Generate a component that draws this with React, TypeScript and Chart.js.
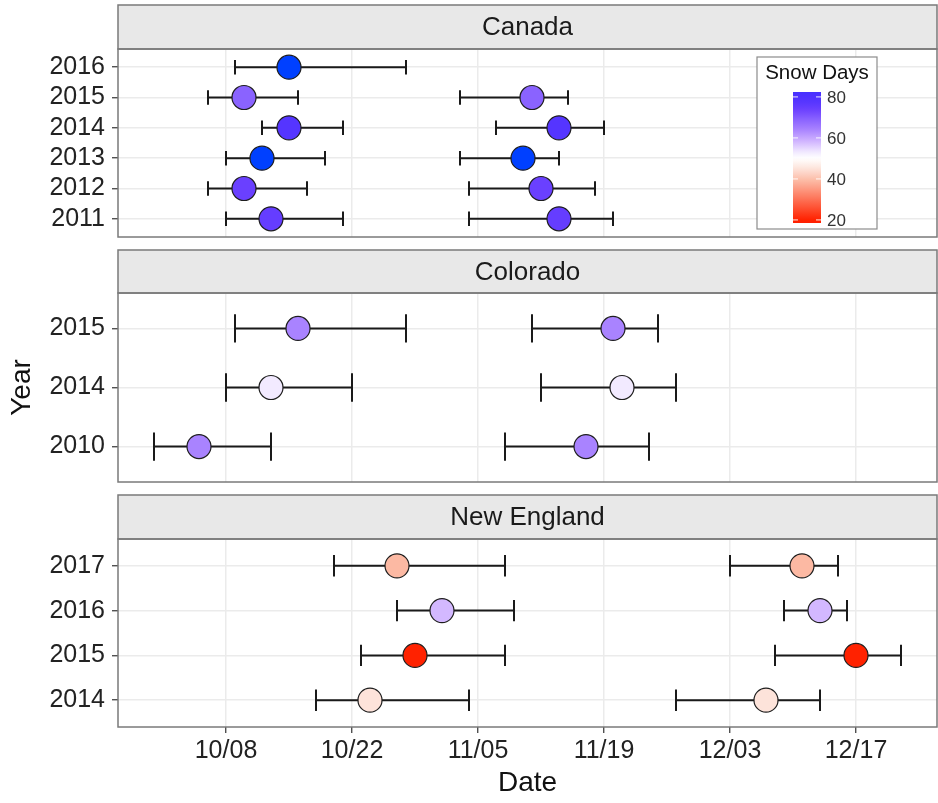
import React, { useEffect, useRef } from 'react';
import { Chart, registerables } from 'chart.js';

Chart.register(...registerables);

// ---------- data ----------
const xTickDates = ['10/08', '10/22', '11/05', '11/19', '12/03', '12/17'];
const xMinDate = '09/26';
const xMaxDate = '12/26';

const canadaYears = ['2011', '2012', '2013', '2014', '2015', '2016'];
const canadaSnowDays = [75, 74, 88, 78, 69, 88];
const canadaEarlyLow = ['10/08', '10/06', '10/08', '10/12', '10/06', '10/09'];
const canadaEarlyMid = ['10/13', '10/10', '10/12', '10/15', '10/10', '10/15'];
const canadaEarlyHigh = ['10/21', '10/17', '10/19', '10/21', '10/16', '10/28'];
const canadaLateLow = ['11/04', '11/04', '11/03', '11/07', '11/03', null];
const canadaLateMid = ['11/14', '11/12', '11/10', '11/14', '11/11', null];
const canadaLateHigh = ['11/20', '11/18', '11/14', '11/19', '11/15', null];

const coloradoYears = ['2010', '2014', '2015'];
const coloradoSnowDays = [64, 53, 64];
const coloradoEarlyLow = ['09/30', '10/08', '10/09'];
const coloradoEarlyMid = ['10/05', '10/13', '10/16'];
const coloradoEarlyHigh = ['10/13', '10/22', '10/28'];
const coloradoLateLow = ['11/08', '11/12', '11/11'];
const coloradoLateMid = ['11/17', '11/21', '11/20'];
const coloradoLateHigh = ['11/24', '11/27', '11/25'];

const neYears = ['2014', '2015', '2016', '2017'];
const neSnowDays = [45, 20, 58, 39];
const neEarlyLow = ['10/18', '10/23', '10/27', '10/20'];
const neEarlyMid = ['10/24', '10/29', '11/01', '10/27'];
const neEarlyHigh = ['11/04', '11/08', '11/09', '11/08'];
const neLateLow = ['11/27', '12/08', '12/09', '12/03'];
const neLateMid = ['12/07', '12/17', '12/13', '12/11'];
const neLateHigh = ['12/13', '12/22', '12/16', '12/15'];

const legendTicks = [20, 40, 60, 80];
const legendMin = 18.5;
const legendMax = 82.4;

// colour scale (snow days -> fill)
const colorStops: [number, string][] = [
  [18, '#ff1e00'], [20, '#ff2200'], [39, '#fcb9a3'], [45, '#fde3da'], [50, '#ffffff'],
  [53, '#f2eaff'], [58, '#d3b8ff'], [64, '#a983ff'], [69, '#8a63ff'], [74, '#6a40ff'],
  [78, '#5535ff'], [82, '#4a30ff'], [88, '#0040ff'],
];

// ---------- helpers ----------
const FONT = '"Liberation Sans", Arial, Helvetica, sans-serif';
Chart.defaults.font.family = FONT;

function dayOf(md: string | null): number {
  if (!md) return NaN;
  const [m, d] = md.split('/').map(Number);
  return Math.round((Date.UTC(2001, m - 1, d) - Date.UTC(2001, 8, 30)) / 86400000);
}

function hexToRgb(h: string) {
  const n = parseInt(h.slice(1), 16);
  return [(n >> 16) & 255, (n >> 8) & 255, n & 255];
}

function colorFor(v: number): string {
  if (v <= colorStops[0][0]) return colorStops[0][1];
  for (let i = 1; i < colorStops.length; i++) {
    const [v1, c1] = colorStops[i];
    if (v <= v1) {
      const [v0, c0] = colorStops[i - 1];
      const t = (v - v0) / (v1 - v0);
      const a = hexToRgb(c0), b = hexToRgb(c1);
      const r = a.map((x, k) => Math.round(x + (b[k] - x) * t));
      return `rgb(${r[0]},${r[1]},${r[2]})`;
    }
  }
  return colorStops[colorStops.length - 1][1];
}

const CAP = 0.24;

function buildDatasets(years: string[], snow: number[], eL: any[], eM: any[], eH: any[], lL: any[], lM: any[], lH: any[]) {
  const pts: any[] = [];
  const colors: string[] = [];
  const bars: any[] = [];
  years.forEach((_, i) => {
    const groups = [[eL[i], eM[i], eH[i]], [lL[i], lM[i], lH[i]]];
    groups.forEach(([lo, mid, hi]) => {
      if (!mid) return;
      const a = dayOf(lo), m = dayOf(mid), b = dayOf(hi);
      pts.push({ x: m, y: i });
      colors.push(colorFor(snow[i]));
      bars.push(
        { x: a, y: i - CAP }, { x: a, y: i + CAP }, { x: a, y: null },
        { x: a, y: i }, { x: b, y: i }, { x: b, y: null },
        { x: b, y: i - CAP }, { x: b, y: i + CAP }, { x: b, y: null },
      );
    });
  });
  return [
    {
      type: 'scatter', data: pts, backgroundColor: colors, borderColor: '#1e1e1e', borderWidth: 1.2,
      pointRadius: 12, pointHoverRadius: 12, order: 0,
    },
    {
      type: 'line', data: bars, borderColor: '#1a1a1a', borderWidth: 2, pointRadius: 0, fill: false,
      spanGaps: false, tension: 0, order: 1,
    },
  ];
}

const panelPlugin = {
  id: 'panelDecor',
  afterDatasetsDraw(chart: any, _args: any, opts: any) {
    const { ctx, chartArea: a } = chart;
    const sh = opts.stripHeight;
    const top = a.top - sh;
    ctx.save();
    ctx.fillStyle = '#e8e8e8';
    ctx.fillRect(a.left, top, a.right - a.left, sh);
    ctx.strokeStyle = '#7a7a7a';
    ctx.lineWidth = 1.5;
    ctx.strokeRect(a.left, top, a.right - a.left, sh);
    ctx.strokeRect(a.left, a.top, a.right - a.left, a.bottom - a.top);
    ctx.fillStyle = '#1a1a1a';
    ctx.font = `26px ${FONT}`;
    ctx.textAlign = 'center';
    ctx.textBaseline = 'middle';
    ctx.fillText(opts.label, (a.left + a.right) / 2, top + sh / 2 + 1);
    ctx.restore();
  },
};

const legendPlugin = {
  id: 'snowLegend',
  afterDraw(chart: any, _args: any, opts: any) {
    if (!opts || !opts.show) return;
    const { ctx, chartArea: a } = chart;
    const x0 = a.right - 180, y0 = a.top + 8, w = 120, h = 172;
    ctx.save();
    ctx.fillStyle = '#ffffff';
    ctx.fillRect(x0, y0, w, h);
    ctx.strokeStyle = '#8c8c8c';
    ctx.lineWidth = 1.2;
    ctx.strokeRect(x0, y0, w, h);
    ctx.fillStyle = '#111';
    ctx.font = `20.5px ${FONT}`;
    ctx.textAlign = 'center';
    ctx.textBaseline = 'middle';
    ctx.fillText('Snow Days', x0 + w / 2, y0 + 16);
    const bx = x0 + 36, bw = 28, by = y0 + 35, bh = 131;
    const g = ctx.createLinearGradient(0, by + bh, 0, by);
    for (let k = 0; k <= 40; k++) {
      const v = legendMin + (legendMax - legendMin) * (k / 40);
      g.addColorStop(k / 40, colorFor(v));
    }
    ctx.fillStyle = g;
    ctx.fillRect(bx, by, bw, bh);
    const yFor = (v: number) => by + bh - ((v - legendMin) / (legendMax - legendMin)) * bh;
    ctx.strokeStyle = 'rgba(255,255,255,0.9)';
    ctx.lineWidth = 1;
    ctx.font = `17px ${FONT}`;
    ctx.textAlign = 'left';
    ctx.fillStyle = '#333';
    legendTicks.forEach((v) => {
      const y = yFor(v);
      ctx.beginPath();
      ctx.moveTo(bx, y); ctx.lineTo(bx + 5, y);
      ctx.moveTo(bx + bw - 5, y); ctx.lineTo(bx + bw, y);
      ctx.stroke();
      ctx.fillText(String(v), bx + bw + 6, y + 1);
    });
    ctx.restore();
  },
};

function xLabel(v: number): string {
  const d = xTickDates.find((s) => dayOf(s) === v);
  return d ?? '';
}

function buildConfig(p: any): any {
  const years: string[] = p.years;
  return {
    type: 'scatter',
    data: { datasets: buildDatasets(p.years, p.snow, p.eL, p.eM, p.eH, p.lL, p.lM, p.lH) },
    plugins: [panelPlugin, legendPlugin],
    options: {
      responsive: false,
      animation: false,
      devicePixelRatio: 1,
      events: [],
      layout: { autoPadding: false, padding: { top: p.padTop, bottom: p.padBottom, left: 0, right: 1 } },
      plugins: {
        legend: { display: false },
        tooltip: { enabled: false },
        panelDecor: { label: p.label, stripHeight: p.stripHeight },
        snowLegend: { show: p.legend },
      },
      scales: {
        x: {
          type: 'linear',
          min: dayOf(xMinDate),
          max: dayOf(xMaxDate),
          afterBuildTicks: (s: any) => { s.ticks = xTickDates.map((d) => ({ value: dayOf(d) })); },
          ticks: {
            display: p.showX, callback: (v: number) => xLabel(v), autoSkip: false, maxRotation: 0,
            font: { size: 25 }, color: '#222', padding: 3,
          },
          grid: { color: '#ebebeb', lineWidth: 1.5, drawTicks: p.showX, tickLength: 6, tickColor: '#333', tickWidth: 1.2 },
          border: { display: false },
          title: { display: p.showX, text: 'Date', font: { size: 28 }, color: '#111', padding: { top: 0, bottom: 3 } },
          afterFit: (s: any) => { s.height = p.showX ? 76 : 0; s.paddingLeft = 0; s.paddingRight = 0; },
        },
        y: {
          type: 'linear',
          min: -0.6,
          max: years.length - 0.4,
          afterBuildTicks: (s: any) => { s.ticks = years.map((_, i) => ({ value: i })); },
          ticks: { callback: (v: number) => years[v] ?? '', font: { size: 25 }, color: '#222', padding: 7 },
          grid: { color: '#ebebeb', lineWidth: 1.5, drawTicks: true, tickLength: 6, tickColor: '#333', tickWidth: 1.2 },
          border: { display: false },
          title: { display: p.showYTitle, text: 'Year', font: { size: 28 }, color: '#111', padding: { top: 5, bottom: 0 } },
          afterFit: (s: any) => { s.width = 118; s.paddingTop = 0; s.paddingBottom = 0; },
        },
      },
    },
  };
}

const panels = [
  {
    label: 'Canada', years: canadaYears, snow: canadaSnowDays,
    eL: canadaEarlyLow, eM: canadaEarlyMid, eH: canadaEarlyHigh,
    lL: canadaLateLow, lM: canadaLateMid, lH: canadaLateHigh,
    top: 0, height: 245, padTop: 49, padBottom: 8, stripHeight: 44, showX: false, showYTitle: false, legend: true,
  },
  {
    label: 'Colorado', years: coloradoYears, snow: coloradoSnowDays,
    eL: coloradoEarlyLow, eM: coloradoEarlyMid, eH: coloradoEarlyHigh,
    lL: coloradoLateLow, lM: coloradoLateMid, lH: coloradoLateHigh,
    top: 245, height: 245, padTop: 48, padBottom: 8, stripHeight: 43, showX: false, showYTitle: true, legend: false,
  },
  {
    label: 'New England', years: neYears, snow: neSnowDays,
    eL: neEarlyLow, eM: neEarlyMid, eH: neEarlyHigh,
    lL: neLateLow, lM: neLateMid, lH: neLateHigh,
    top: 490, height: 313, padTop: 49, padBottom: 0, stripHeight: 44, showX: true, showYTitle: false, legend: false,
  },
];

export default function App() {
  const refs = useRef<(HTMLCanvasElement | null)[]>([]);
  useEffect(() => {
    const charts = panels.map((p, i) => new Chart(refs.current[i] as HTMLCanvasElement, buildConfig(p)));
    return () => charts.forEach((c) => c.destroy());
  }, []);
  return (
    <div style={{ position: 'absolute', left: 0, top: 0, width: 938, height: 803, background: '#fff' }}>
      {panels.map((p, i) => (
        <canvas
          key={p.label}
          ref={(el) => { refs.current[i] = el; }}
          width={938}
          height={p.height}
          style={{ position: 'absolute', left: 0, top: p.top, width: 938, height: p.height }}
        />
      ))}
    </div>
  );
}
